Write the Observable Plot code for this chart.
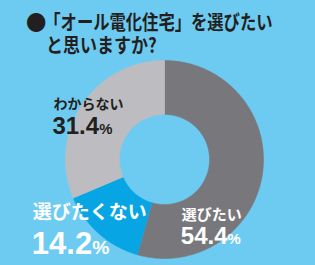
<!DOCTYPE html>
<html><head><meta charset="utf-8">
<script src="https://cdn.jsdelivr.net/npm/d3@7"></script>
<script src="https://cdn.jsdelivr.net/npm/@observablehq/plot@0.6"></script>
<style>
html,body{margin:0;padding:0;background:#6dcbf2;width:315px;height:265px;overflow:hidden;}
#title{position:relative;height:58px;font-family:"Noto Sans CJK JP",sans-serif;font-weight:700;color:#231f20;font-size:20px;line-height:20px;}
#title .line{position:absolute;transform-origin:0 0;white-space:nowrap;}
#title .l1{left:28px;top:12px;transform:scaleX(0.815);}
#title .l2{left:46px;top:35px;transform:scaleX(0.85);}
#title .dot{display:inline-block;transform:scale(1.25,1.05);transform-origin:50% 55%;}
#chart svg{display:block;}
</style></head><body>
<div id="title"><div class="line l1"><span class="dot">●</span>「オール電化住宅」を選びたい</div><div class="line l2">と思いますか?</div></div>
<div id="chart"></div>
<script>
const categories = ["選びたい", "選びたくない", "わからない"];
const values = [54.4, 14.2, 31.4];
const valueLabels = ["54.4%", "14.2%", "31.4%"];
const sliceColors = ["#78787c", "#08a5e5", "#bdbdc1"];

const innerRatio = 0.455;
const arcs = d3.pie().sort(null).value(d => d)(values);
const ring = [];
arcs.forEach((a, i) => {
  const span = a.endAngle - a.startAngle;
  const n = Math.max(8, Math.ceil(span / 0.01));
  for (let k = 0; k <= n; k++) {
    const t = a.startAngle + span * k / n;
    ring.push({category: categories[i], x: Math.sin(t), y: Math.cos(t)});
  }
  for (let k = n; k >= 0; k--) {
    const t = a.startAngle + span * k / n;
    ring.push({category: categories[i], x: innerRatio * Math.sin(t), y: innerRatio * Math.cos(t)});
  }
});
const labels = arcs.map((a, i) => {
  const m = (a.startAngle + a.endAngle) / 2, r = (1 + innerRatio) / 2;
  return {category: categories[i], value: valueLabels[i], x: r * Math.sin(m), y: r * Math.cos(m)};
});

const labelStyle = {
  "選びたい":     {name: {dx: -54, dy: 51, fontSize: 15, fill: "white"}, value: {dx: -55, dy: 75, fontSize: 24, fill: "white"}},
  "選びたくない": {name: {dx: -84, dy: 5.5, fontSize: 19, fill: "white"}, value: {dx: -85, dy: 40, fontSize: 31, fill: "white"}},
  "わからない":   {name: {dx: -51, dy: -10.3, fontSize: 14, fill: "#231f20"}, value: {dx: -52, dy: 14.7, fontSize: 24, fill: "#231f20"}}
};

const textMarks = categories.flatMap(c => {
  const s = labelStyle[c];
  const rows = labels.filter(d => d.category === c);
  return [
    Plot.text(rows, {x: "x", y: "y", text: "category", textAnchor: "start", lineAnchor: "bottom",
      fontFamily: "Noto Sans CJK JP", fontWeight: 700, ...s.name}),
    Plot.text(rows, {x: "x", y: "y", text: "value", textAnchor: "start", lineAnchor: "bottom",
      fontFamily: "Liberation Sans", fontWeight: 700, ...s.value})
  ];
});

const chart = Plot.plot({
  width: 315, height: 207,
  marginLeft: 65, marginRight: 52, marginTop: 2, marginBottom: 7,
  x: {domain: [-1, 1], axis: null},
  y: {domain: [-1, 1], axis: null},
  color: {domain: categories, range: sliceColors},
  style: {background: "transparent"},
  marks: [
    Plot.line(ring, {x: "x", y: "y", z: "category", fill: "category", stroke: "category", strokeWidth: 0.6, curve: "linear"}),
    ...textMarks
  ]
});
d3.select(chart).selectAll("text").each(function() {
  const t = this.textContent;
  if (/%$/.test(t)) {
    this.textContent = t.slice(0, -1);
    d3.select(this).append("tspan").attr("font-size", "0.62em").text("%");
  }
});
document.getElementById("chart").appendChild(chart);
</script>
</body></html>
